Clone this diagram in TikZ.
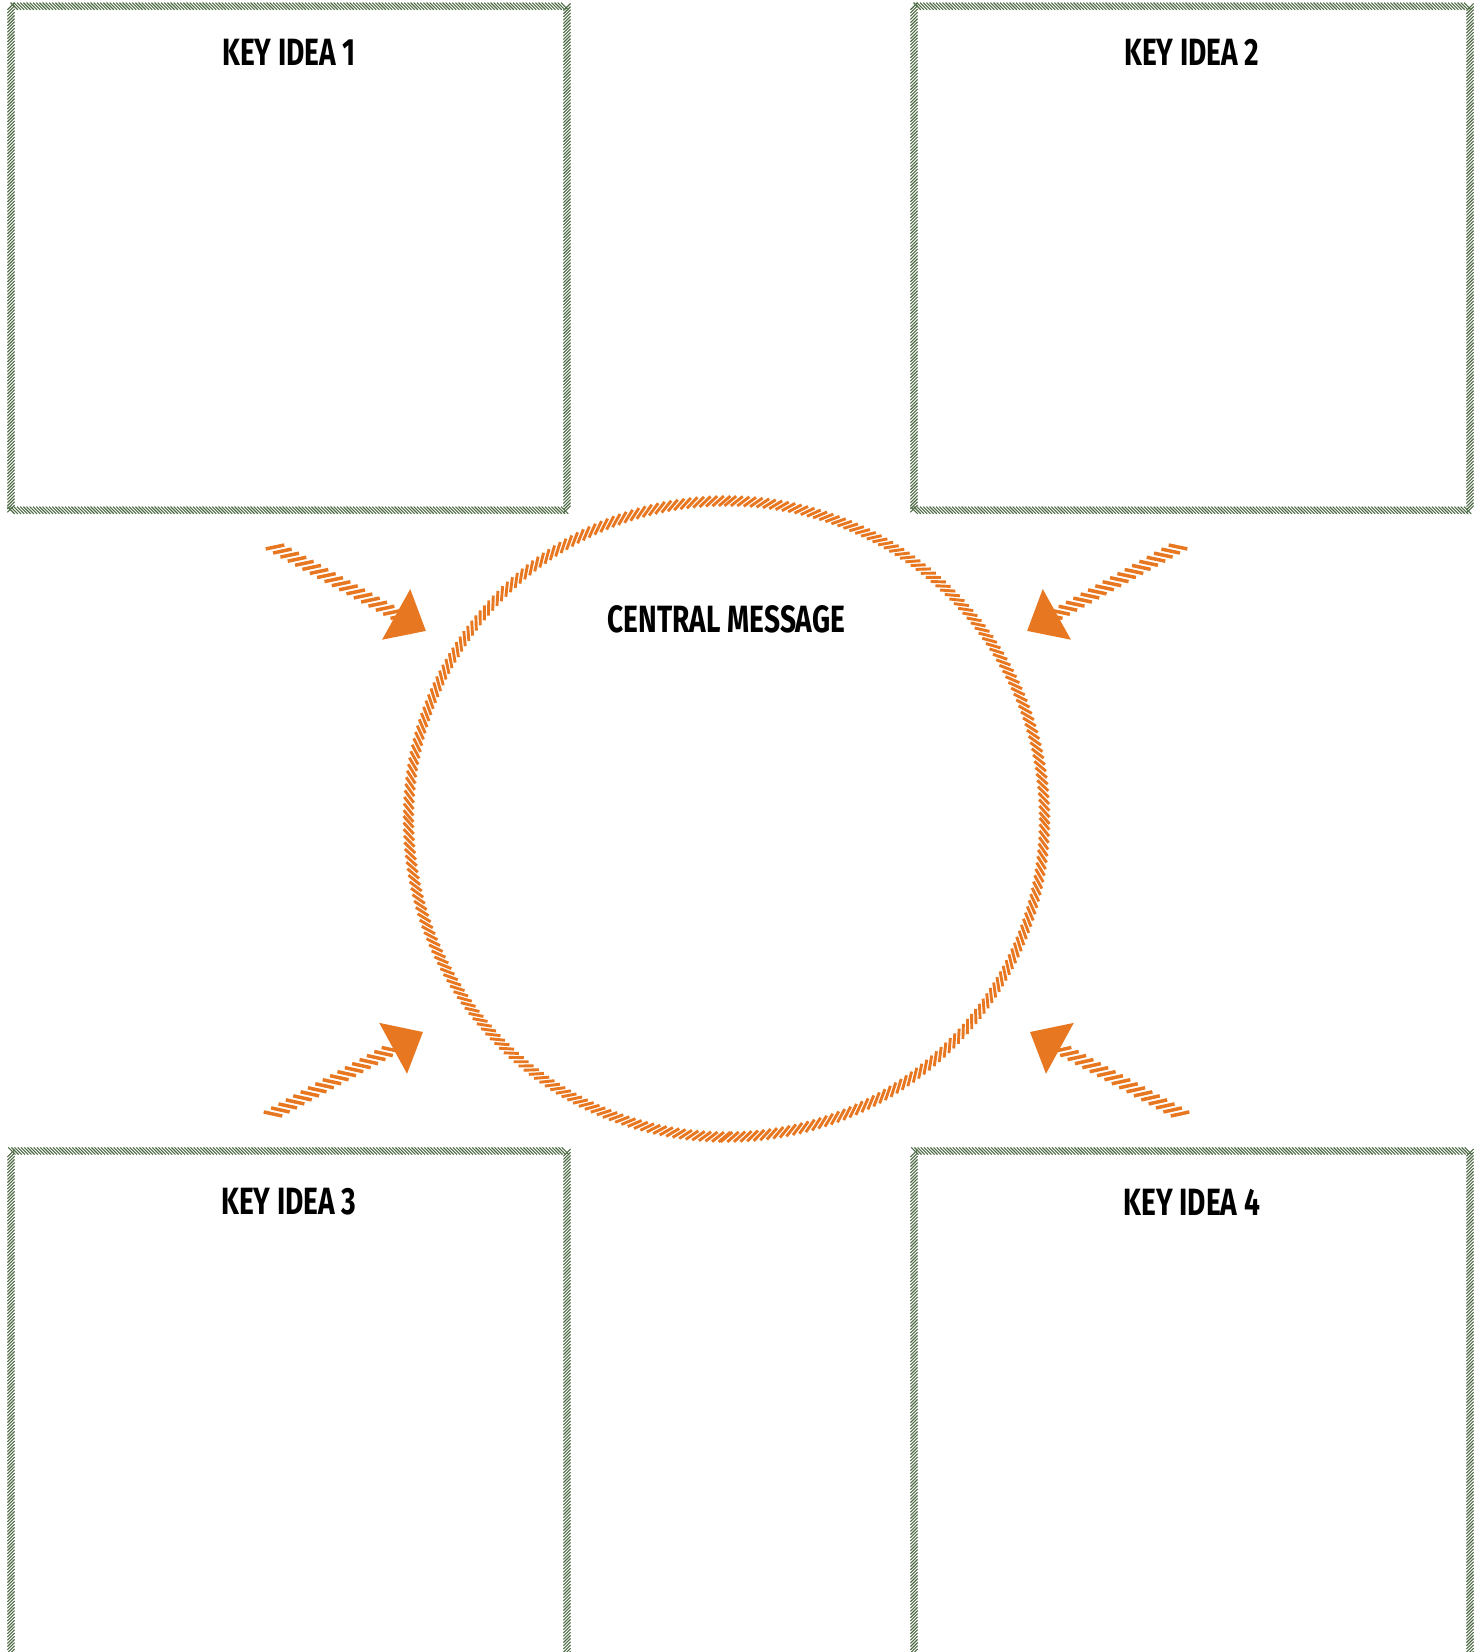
\documentclass[tikz,border=0pt]{standalone}
\usepackage{fontspec}
\newfontfamily\ideafont[FakeStretch=0.74]{Fira Sans}
\usetikzlibrary{positioning,decorations.markings}
\definecolor{ideagreen}{HTML}{4E6B45}
\definecolor{accent}{HTML}{E87722}

\begin{document}
\begin{tikzpicture}[x=0.5pt,y=0.5pt,
    keybox/.style={rectangle,inner sep=0pt,outer sep=0pt,minimum width=278pt,minimum height=252pt,
      postaction={decorate,decoration={markings,
        mark=between positions 0 and 1 step 1.6pt with {\draw[ideagreen,line width=0.55pt] (-1.8pt,1.8pt) -- (1.8pt,-1.8pt);}}}},
    ring/.style={circle,inner sep=0pt,outer sep=0pt,minimum size=318pt,
      postaction={decorate,decoration={markings,
        mark=between positions 0 and 1 step 3.25pt with {\draw[accent,line width=1.45pt] (-2.9pt,-2.45pt) -- (2.9pt,2.45pt);}}}},
    hatcharrow/.style={postaction={decorate,decoration={markings,
        mark=between positions 0 and 0.83 step 4.2pt with {\draw[accent,line width=1.75pt,yscale=#1] (-3.58pt,-3.12pt) -- (3.58pt,3.12pt);},
        mark=at position 1 with {\fill[accent] (0pt,0pt) -- (-17pt,14.5pt) -- (-17pt,-14.5pt) -- cycle;}}}},
    hatcharrow/.default=1,
    title/.style={font=\ideafont\bfseries\fontsize{19}{21}\selectfont,inner sep=0pt}]
  \useasboundingbox (0,0) rectangle (1483,1652);
  \clip (0,0) rectangle (1483,1652);

  % the four idea boxes
  \node[keybox] (idea1) at (289,1393.75) {};
  \node[keybox] (idea2) at (1192,1393.75) {};
  \node[keybox,minimum height=262pt] (idea3) at (289,239) {};
  \node[keybox,minimum height=262pt] (idea4) at (1192,239) {};

  \node[title] (label1) at ([yshift=-23pt]idea1.north) {KEY IDEA 1};
  \node[title] (label2) at ([yshift=-23pt]idea2.north) {KEY IDEA 2};
  \node[title] (label3) at ([yshift=-25.5pt]idea3.north) {KEY IDEA 3};
  \node[title] (label4) at ([yshift=-25.5pt]idea4.north) {KEY IDEA 4};

  % central message
  \node[ring,rotate=-90] (central) at (726.5,833) {};
  \node[title] (msg) at ([yshift=100pt]central.center) {CENTRAL MESSAGE};

  % arrows into the circle
  \coordinate (tail1) at (275,1105);  \coordinate (tip1) at (426,1021);
  \coordinate (tail2) at (1178,1105); \coordinate (tip2) at (1027,1021);
  \coordinate (tail3) at (273,538);   \coordinate (tip3) at (423,620);
  \coordinate (tail4) at (1180,538);  \coordinate (tip4) at (1030,620);
  \foreach \i/\s in {1/1,2/-1,3/-1,4/1}
    \path[hatcharrow=\s] (tail\i) -- (tip\i);
\end{tikzpicture}
\end{document}
